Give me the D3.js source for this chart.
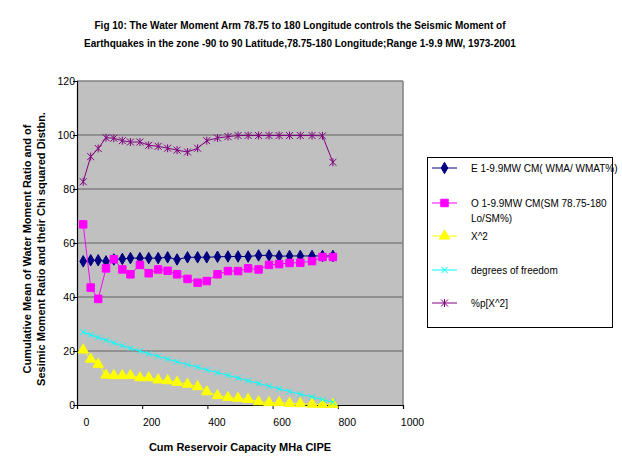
<!DOCTYPE html>
<html>
<head>
<meta charset="utf-8">
<script src="https://cdn.jsdelivr.net/npm/d3@7"></script>
<style>
  body { margin: 0; background: #fff; }
  svg { font-family: "Liberation Sans", Arial, sans-serif; }
</style>
</head>
<body>
<svg></svg>
<script>
// cumulative reservoir capacity (x)
const capacity = [19, 42, 65, 89, 113, 139, 164, 193, 220, 249, 278, 307, 339, 370,
                  398, 431, 463, 494, 525, 557, 589, 620, 652, 685, 721, 753, 785];

const expected = [53.2, 53.6, 53.6, 53.2, 53.9, 54.1, 54.4, 54.4, 54.4, 54.4, 54.7, 53.9, 54.7, 54.7,
                  54.7, 54.9, 55.0, 55.0, 55.0, 55.4, 55.4, 55.1, 55.2, 55.2, 55.2, 55.2, 55.2];

const observed = [66.9, 43.5, 39.3, 50.6, 54.0, 50.2, 48.4, 51.9, 48.8, 50.2, 49.7, 48.4, 46.7, 45.3,
                  45.9, 48.4, 49.6, 49.6, 50.6, 50.2, 51.9, 52.2, 52.6, 52.7, 53.3, 54.8, 54.8];

const chiSq = [20.4, 17.0, 15.1, 11.1, 10.9, 10.9, 10.9, 10.1, 10.1, 9.3, 9.0, 8.4, 7.7, 6.8,
               4.9, 3.5, 2.8, 2.5, 2.1, 1.2, 0.9, 0.9, 0.6, 0.5, 0.3, 0.2, 0.2];

const dof = [27, 26, 25, 24, 23, 22, 21, 20, 19, 18, 17, 16, 15, 14,
             13, 12, 11, 10, 9, 8, 7, 6, 5, 4, 3, 2, 1];

const pChi = [82.7, 92.0, 95.0, 99.0, 98.8, 97.9, 97.4, 97.4, 96.2, 95.8, 95.1, 94.4, 93.7, 95.1,
              97.9, 98.9, 99.4, 99.8, 99.8, 99.8, 99.8, 99.8, 99.8, 99.8, 99.8, 99.7, 89.9];

const seriesNames = ["E 1-9.9MW CM( WMA/ WMAT%)", "O 1-9.9MW CM(SM 78.75-180 Lo/SM%)",
                     "X^2", "degrees of freedom", "%p[X^2]"];

const xTicks = [0, 200, 400, 600, 800, 1000];
const yTicks = [0, 20, 40, 60, 80, 100, 120];

const width = 622;
const height = 470;
const plot = { left: 77, right: 403, top: 81, bottom: 405 };

const svg = d3.select("svg")
              .attr("width", width)
              .attr("height", height);

const xScale = d3.scaleLinear().domain([0, 1000]).range([plot.left, plot.right]);
const yScale = d3.scaleLinear().domain([0, 120]).range([plot.bottom, plot.top]);

// marker shapes, Excel style
const markers = {
    diamond: s => d3.symbol(d3.symbolDiamond, 38)(),
    square: s => d3.symbol(d3.symbolSquare, 56)(),
    triangle: s => d3.symbol(d3.symbolTriangle, 48)(),
    cross: s => "M-3,-3L3,3M-3,3L3,-3",
    star: s => "M-3.5,-3.5L3.5,3.5M-3.5,3.5L3.5,-3.5M0,-4L0,4"
};

const series = [
    { name: seriesNames[0], values: expected, color: "#000080", marker: "diamond", filled: true },
    { name: seriesNames[1], values: observed, color: "#FF00FF", marker: "square", filled: true },
    { name: seriesNames[2], values: chiSq, color: "#FFFF00", marker: "triangle", filled: true },
    { name: seriesNames[3], values: dof, color: "#00FFFF", marker: "cross", filled: false },
    { name: seriesNames[4], values: pChi, color: "#800080", marker: "star", filled: false }
];

// plot area
svg.append("rect")
   .attr("x", plot.left)
   .attr("y", plot.top)
   .attr("width", plot.right - plot.left)
   .attr("height", plot.bottom - plot.top)
   .attr("fill", "#C0C0C0");

svg.append("g")
   .selectAll("line")
   .data(yTicks.filter(v => v > 0))
   .enter()
   .append("line")
   .attr("x1", plot.left)
   .attr("x2", plot.right)
   .attr("y1", d => yScale(d))
   .attr("y2", d => yScale(d))
   .attr("stroke", "#808080")
   .attr("stroke-width", 1.5);

svg.append("line")
   .attr("x1", plot.right).attr("x2", plot.right)
   .attr("y1", plot.top).attr("y2", plot.bottom)
   .attr("stroke", "#808080")
   .attr("stroke-width", 1.5);

// axes
const xAxis = d3.axisBottom(xScale)
                .tickValues(xTicks)
                .tickFormat(d3.format("d"))
                .tickSize(4)
                .tickPadding(10);
const gx = svg.append("g")
              .attr("transform", "translate(0," + plot.bottom + ")")
              .call(xAxis);
gx.selectAll("text").attr("dx", 9);

const yAxis = d3.axisLeft(yScale).tickValues(yTicks).tickSize(4).tickPadding(-2);
const gy = svg.append("g")
              .attr("transform", "translate(" + plot.left + ",0)")
              .call(yAxis);

[gx, gy].forEach(g => {
    g.selectAll("path").attr("stroke", "#000").attr("stroke-width", 1.2);
    g.selectAll("line").attr("stroke", "#000");
    g.selectAll("text")
     .attr("font-family", "Liberation Sans, Arial, sans-serif")
     .attr("font-size", 10.5)
     .attr("fill", "#000");
});

// lines and markers
const line = d3.line()
               .x((d, i) => xScale(capacity[i]))
               .y(d => yScale(d));

series.forEach(s => {
    const g = svg.append("g");
    g.append("path")
     .datum(s.values)
     .attr("d", line)
     .attr("fill", "none")
     .attr("stroke", s.color)
     .attr("stroke-width", 1);

    g.selectAll("path.m")
     .data(s.values)
     .enter()
     .append("path")
     .attr("class", "m")
     .attr("d", markers[s.marker])
     .attr("transform", (d, i) => "translate(" + xScale(capacity[i]) + "," + yScale(d) + ")")
     .attr("fill", s.filled ? s.color : "none")
     .attr("stroke", s.color)
     .attr("stroke-width", 1);
});

// titles
const title = svg.append("text")
                 .attr("text-anchor", "middle")
                 .attr("font-weight", "bold")
                 .attr("font-size", 10);
title.append("tspan").attr("x", 300).attr("y", 29)
     .text("Fig 10: The Water Moment Arm 78.75 to 180 Longitude controls the Seismic Moment of");
title.append("tspan").attr("x", 300).attr("y", 47)
     .text("Earthquakes in the zone -90 to 90 Latitude,78.75-180 Longitude;Range 1-9.9 MW, 1973-2001");

svg.append("text")
   .attr("x", (plot.left + plot.right) / 2)
   .attr("y", 451)
   .attr("text-anchor", "middle")
   .attr("font-weight", "bold")
   .attr("font-size", 11)
   .text("Cum Reservoir Capacity MHa CIPE");

const yTitle = svg.append("text")
                  .attr("transform", "translate(0," + ((plot.top + plot.bottom) / 2 + 6) + ") rotate(-90)")
                  .attr("text-anchor", "middle")
                  .attr("font-weight", "bold")
                  .attr("font-size", 11);
yTitle.append("tspan").attr("x", 0).attr("y", 31)
      .text("Cumulative Mean of Water Moment Ratio and  of");
yTitle.append("tspan").attr("x", 0).attr("y", 45)
      .text("Sesimic Moment Ratio and their Chi squared Distbn.");

// legend
const legend = svg.append("g");
legend.append("rect")
      .attr("x", 427.5)
      .attr("y", 157.5)
      .attr("width", 185)
      .attr("height", 170)
      .attr("fill", "#fff")
      .attr("stroke", "#000")
      .attr("stroke-width", 1);

const legendY = [168, 203, 236, 270, 303];
series.forEach((s, i) => {
    const item = legend.append("g")
                       .attr("transform", "translate(0," + legendY[i] + ")");
    item.append("line")
        .attr("x1", 432).attr("x2", 457)
        .attr("stroke", s.color)
        .attr("stroke-width", 1);
    item.append("path")
        .attr("d", markers[s.marker])
        .attr("transform", "translate(444.5,0)")
        .attr("fill", s.filled ? s.color : "none")
        .attr("stroke", s.color);
    const label = item.append("text")
                      .attr("x", 471)
                      .attr("y", 4)
                      .attr("font-size", 10);
    if (i === 1) {
        label.append("tspan").attr("x", 471).text("O 1-9.9MW CM(SM 78.75-180");
        label.append("tspan").attr("x", 471).attr("dy", 14.5).text("Lo/SM%)");
    } else {
        label.text(s.name);
    }
});
</script>
</body>
</html>
